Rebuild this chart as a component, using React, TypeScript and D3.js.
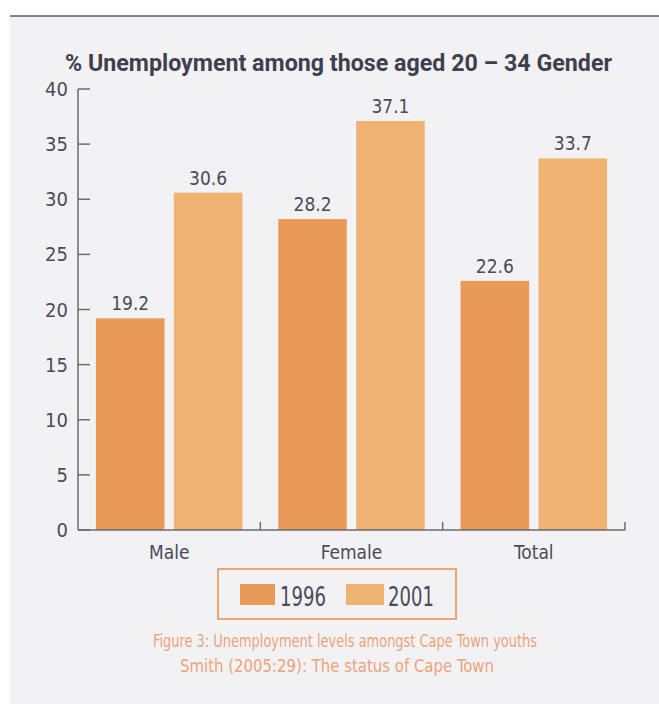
import React from "react";
import * as d3 from "d3";

const categories = ["Male", "Female", "Total"];
const seriesNames = ["1996", "2001"];
const values1996 = [19.2, 28.2, 22.6];
const values2001 = [30.6, 37.1, 33.7];
const yTicks = [0, 5, 10, 15, 20, 25, 30, 35, 40];
const title = "% Unemployment among those aged 20 – 34 Gender";
const caption1 = "Figure 3: Unemployment levels amongst Cape Town youths";
const caption2 = "Smith (2005:29): The status of Cape Town";

const W = 659;
const H = 704;
const colors = ["#E99A58", "#F0B272"];
const textColor = "#4a4a58";
const font = "'Liberation Sans Narrow', 'DejaVu Sans Condensed', 'Roboto', sans-serif";
const titleFont = "Roboto, 'Liberation Sans', sans-serif";

export default function App() {
  const x0 = d3.scaleBand<string>().domain(categories).range([78, 625]).padding(0);
  const x1 = d3.scaleBand<string>().domain(seriesNames).range([0, x0.bandwidth()]).paddingInner(0.12).paddingOuter(0.23);
  const y = d3.scaleLinear().domain([0, 40]).range([530, 89]);
  const series = [values1996, values2001];

  return (
    <svg width={W} height={H} style={{ position: "absolute", left: 0, top: 0 }} fontFamily={font}>
      <rect x={0} y={0} width={W} height={H} fill="#ffffff" />
      <rect x={10} y={16} width={W - 10} height={H - 16} fill="#F2F2F5" />
      <line x1={10} x2={W} y1={16} y2={16} stroke="#555" strokeWidth={2} opacity={0.7} />

      <text x={65} y={71} fontSize={23} fontWeight="bold" fontFamily={titleFont} fill="#3f3f4d" textLength={547} lengthAdjust="spacingAndGlyphs">
        {title}
      </text>

      {/* bars */}
      {categories.map((c, ci) =>
        seriesNames.map((s, si) => {
          const v = series[si][ci];
          const bx = (x0(c) ?? 0) + (x1(s) ?? 0);
          return (
            <g key={c + s}>
              <rect x={bx} y={y(v)} width={x1.bandwidth()} height={y(0) - y(v)} fill={colors[si]} />
              <text x={bx + x1.bandwidth() / 2} y={y(v) - 8} textAnchor="middle" fontSize={19} fill={textColor}>
                {v.toFixed(1)}
              </text>
            </g>
          );
        })
      )}

      {/* y axis */}
      <line x1={78} x2={78} y1={y(40)} y2={y(0)} stroke="#6a6a72" strokeWidth={1.5} />
      {yTicks.map((t) => (
        <g key={t}>
          <line x1={78} x2={90} y1={y(t)} y2={y(t)} stroke="#6a6a72" strokeWidth={1.5} />
          <text x={68} y={y(t) + 7} textAnchor="end" fontSize={20} fill={textColor}>
            {t}
          </text>
        </g>
      ))}

      {/* x axis */}
      <line x1={78} x2={625} y1={y(0)} y2={y(0)} stroke="#6a6a72" strokeWidth={1.5} />
      {categories.map((c) => (
        <g key={c}>
          <line x1={(x0(c) ?? 0) + x0.bandwidth()} x2={(x0(c) ?? 0) + x0.bandwidth()} y1={y(0)} y2={y(0) - 8} stroke="#6a6a72" strokeWidth={1.5} />
          <text x={(x0(c) ?? 0) + x0.bandwidth() / 2} y={559} textAnchor="middle" fontSize={19} fill={textColor}>
            {c}
          </text>
        </g>
      ))}

      {/* legend */}
      <rect x={218} y={569} width={238} height={50} fill="none" stroke="#EBA56E" strokeWidth={2} />
      {seriesNames.map((s, i) => (
        <g key={s}>
          <rect x={240 + i * 106} y={584} width={i === 0 ? 35 : 38} height={21} fill={colors[i]} />
          <text x={280 + i * 108} y={606} fontSize={26} fill={textColor} textLength={46} lengthAdjust="spacingAndGlyphs">
            {s}
          </text>
        </g>
      ))}

      {/* caption */}
      <text x={345} y={647} textAnchor="middle" fontSize={17} fill="#EDA27A" textLength={384} lengthAdjust="spacingAndGlyphs">
        {caption1}
      </text>
      <text x={337} y={672} textAnchor="middle" fontSize={17} fill="#EDA27A" textLength={314} lengthAdjust="spacingAndGlyphs">
        {caption2}
      </text>
    </svg>
  );
}
